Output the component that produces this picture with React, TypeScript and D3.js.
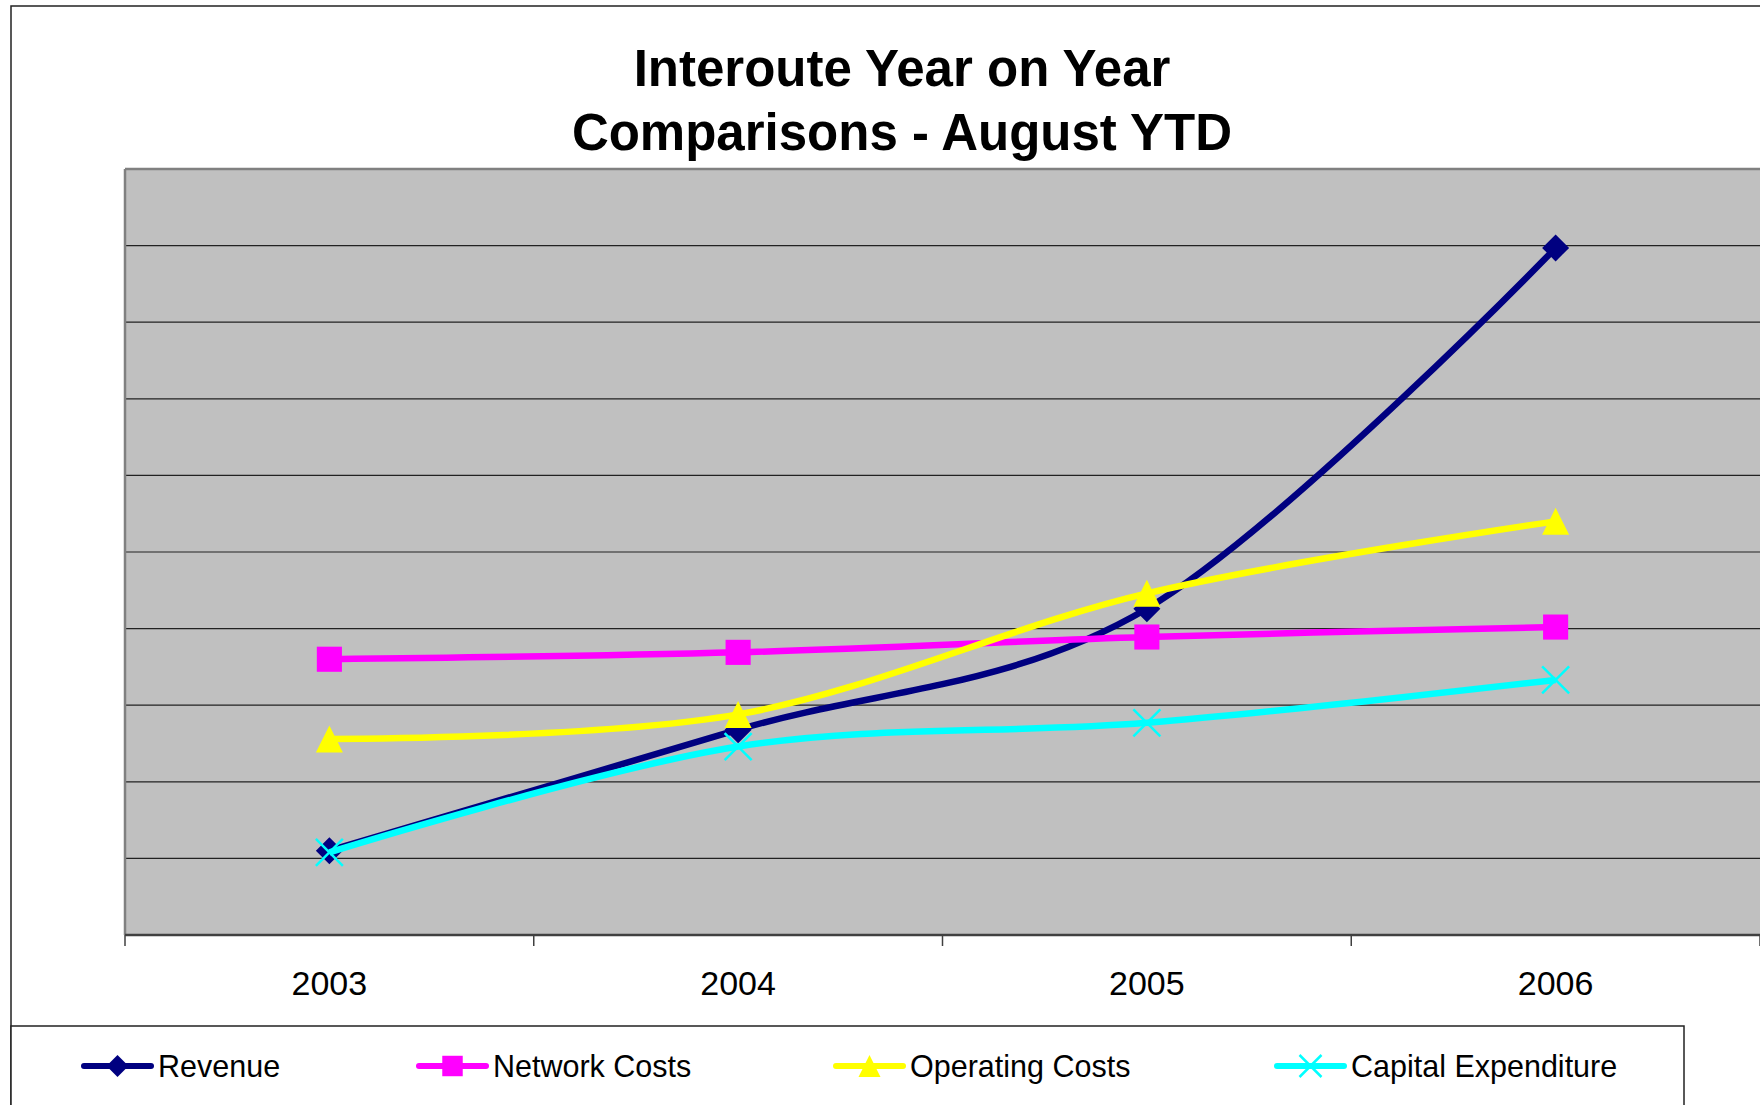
import * as d3 from "d3";

const years = ["2003", "2004", "2005", "2006"];
const revenue = [11.0, 26.8, 42.6, 89.7];
const networkCosts = [36.0, 36.9, 38.9, 40.2];
const operatingCosts = [25.6, 28.8, 44.6, 54.0];
const capitalExpenditure = [10.8, 24.6, 27.7, 33.3];
const yTicks = [0, 10, 20, 30, 40, 50, 60, 70, 80, 90, 100];

const seriesList = [
  { name: "Revenue", values: revenue, color: "#000080", marker: "diamond" },
  { name: "Network Costs", values: networkCosts, color: "#FF00FF", marker: "square" },
  { name: "Operating Costs", values: operatingCosts, color: "#FFFF00", marker: "triangle" },
  { name: "Capital Expenditure", values: capitalExpenditure, color: "#00FFFF", marker: "x" },
];

// legend x positions (start of the short line sample)
const legendX = [84, 419, 836, 1277];

function Marker({ kind, x, y, size, color }: { kind: string; x: number; y: number; size: number; color: string }) {
  const h = size / 2;
  if (kind === "diamond") {
    return <path d={`M${x},${y - h}L${x + h},${y}L${x},${y + h}L${x - h},${y}Z`} fill={color} />;
  }
  if (kind === "square") {
    const s = h * 0.93;
    return <rect x={x - s} y={y - s} width={s * 2} height={s * 2} fill={color} />;
  }
  if (kind === "triangle") {
    return <path d={`M${x},${y - h}L${x + h},${y + h}L${x - h},${y + h}Z`} fill={color} />;
  }
  return (
    <g stroke={color} strokeWidth={2.5}>
      <line x1={x - h} y1={y - h} x2={x + h} y2={y + h} />
      <line x1={x - h} y1={y + h} x2={x + h} y2={y - h} />
    </g>
  );
}

export default function App() {
  const width = 1760;
  const height = 1105;
  const plot = { left: 125, right: 1760, top: 169, bottom: 935 };

  const xScale = d3.scaleBand<string>().domain(years).range([plot.left, plot.right]).padding(0);
  const yScale = d3.scaleLinear().domain([0, 100]).range([plot.bottom, plot.top]);

  const line = d3
    .line<number>()
    .x((_, i) => xScale(years[i])! + xScale.bandwidth() / 2)
    .y((d) => yScale(d))
    .curve(d3.curveCardinal.tension(0));

  const boundaries = [...years.map((y) => xScale(y)!), plot.right];

  return (
    <svg
      width={width}
      height={height}
      style={{ position: "absolute", left: 0, top: 0, background: "#fff" }}
      fontFamily="'Liberation Sans', Arial, sans-serif"
    >
      {/* chart border */}
      <rect x={11} y={6} width={1800} height={1200} fill="#fff" stroke="#222" strokeWidth={1.5} />

      {/* title */}
      <text x={902} y={86} textAnchor="middle" fontSize={51} fontWeight="bold" fill="#000">
        Interoute Year on Year
      </text>
      <text x={902} y={150} textAnchor="middle" fontSize={51} fontWeight="bold" fill="#000">
        Comparisons - August YTD
      </text>

      {/* plot area */}
      <rect x={plot.left} y={plot.top} width={plot.right - plot.left + 10} height={plot.bottom - plot.top} fill="#C0C0C0" />
      {yTicks.slice(1, -1).map((t) => (
        <line key={t} x1={plot.left} x2={plot.right} y1={yScale(t)} y2={yScale(t)} stroke="#222" strokeWidth={1.2} />
      ))}
      <line x1={plot.left} x2={plot.right} y1={plot.top} y2={plot.top} stroke="#808080" strokeWidth={2.5} />
      <line x1={plot.left} x2={plot.left} y1={plot.top} y2={plot.bottom} stroke="#808080" strokeWidth={2.5} />

      {/* x axis */}
      <line x1={plot.left} x2={plot.right} y1={plot.bottom} y2={plot.bottom} stroke="#404040" strokeWidth={2.5} />
      {boundaries.map((bx, i) => (
        <line key={i} x1={bx} x2={bx} y1={plot.bottom} y2={plot.bottom + 11} stroke="#404040" strokeWidth={1.5} />
      ))}
      {years.map((y) => (
        <text key={y} x={xScale(y)! + xScale.bandwidth() / 2} y={995} textAnchor="middle" fontSize={34} fill="#000">
          {y}
        </text>
      ))}

      {/* series */}
      {seriesList.map((s) => (
        <g key={s.name}>
          <path d={line(s.values)!} fill="none" stroke={s.color} strokeWidth={6.5} strokeLinejoin="round" />
          {s.values.map((v, i) => (
            <Marker
              key={i}
              kind={s.marker}
              x={xScale(years[i])! + xScale.bandwidth() / 2}
              y={yScale(v)}
              size={27}
              color={s.color}
            />
          ))}
        </g>
      ))}

      {/* legend */}
      <rect x={11} y={1026} width={1673} height={200} fill="#fff" stroke="#222" strokeWidth={1.5} />
      {seriesList.map((s, i) => {
        const lx = legendX[i];
        return (
          <g key={s.name}>
            <line x1={lx} x2={lx + 67} y1={1066} y2={1066} stroke={s.color} strokeWidth={6} strokeLinecap="round" />
            <Marker kind={s.marker} x={lx + 33.5} y={1066} size={22} color={s.color} />
            <text x={lx + 74} y={1077} fontSize={30.5} fill="#000">
              {s.name}
            </text>
          </g>
        );
      })}
    </svg>
  );
}
